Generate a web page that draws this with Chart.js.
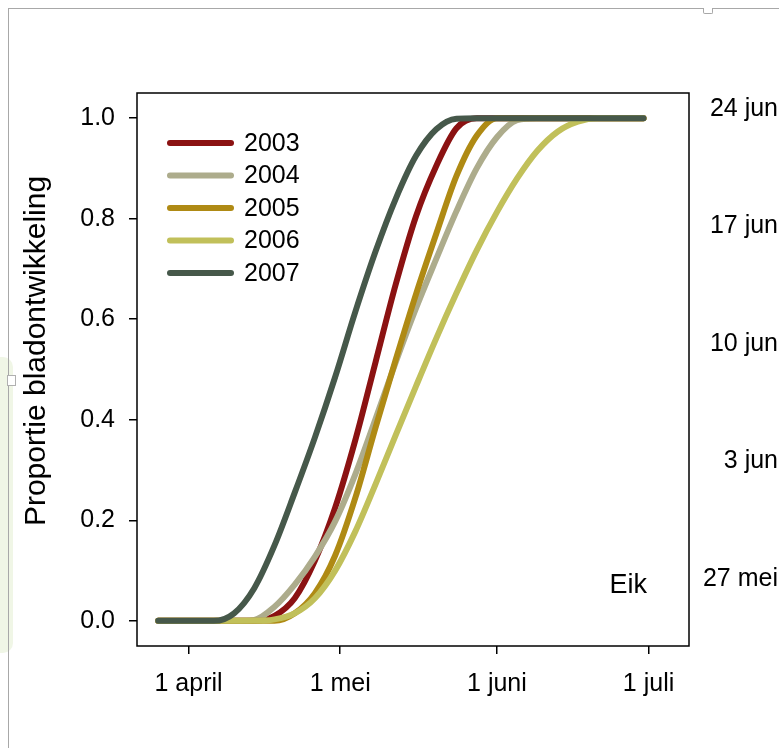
<!DOCTYPE html>
<html>
<head>
<meta charset="utf-8">
<script src="https://cdn.jsdelivr.net/npm/chart.js@4/dist/chart.umd.min.js"></script>
<style>
html, body { margin: 0; padding: 0; background: #fff; overflow: hidden; width: 779px; height: 748px; }
#wrap { position: relative; width: 779px; height: 748px; overflow: hidden; }
#chart { position: absolute; left: 0; top: 0; }
.blob { position: absolute; left: 0; top: 357px; width: 13px; height: 296px; background: #f0f6e6; border-radius: 0 10px 10px 0; }
.edge-top { position: absolute; left: 8px; top: 8px; width: 775px; border-top: 1px solid #a8a8a8; }
.edge-left { position: absolute; left: 8px; top: 8px; height: 745px; border-left: 1px solid #a8a8a8; }
.notch { position: absolute; left: 703px; top: 8px; width: 8px; height: 5px; border: 1px solid #a8a8a8; border-top: none; border-radius: 0 0 2px 2px; background: #fff; }
.handle { position: absolute; left: 7px; top: 375px; width: 7px; height: 9px; border: 1px solid #b0b0b0; background: #fff; }
</style>
</head>
<body>
<div id="wrap">
  <div class="blob"></div>
  <div class="edge-top"></div>
  <div class="edge-left"></div>
  <div class="notch"></div>
  <div class="handle"></div>
  <canvas id="chart" width="830" height="748"></canvas>
</div>
<script>
// day of year for every sample point
const days = [85, 88, 92, 96, 100, 104, 108, 112, 116, 120, 124, 128, 132,
              136, 140, 144, 148, 152, 156, 160, 164, 168, 172, 176, 181];

const years = ['2003', '2004', '2005', '2006', '2007'];
const colors = ['#8b1212', '#adac8c', '#af8a14', '#c1c05a', '#46584a'];

const val2003 = [0, 0, 0, 0, 0, 0, 0.01, 0.045, 0.12, 0.225, 0.36, 0.515, 0.67,
                 0.805, 0.905, 0.98, 1, 1, 1, 1, 1, 1, 1, 1, 1];
const val2004 = [0, 0, 0, 0, 0, 0.002, 0.028, 0.072, 0.128, 0.198, 0.292, 0.402, 0.515,
                 0.622, 0.72, 0.815, 0.9, 0.962, 0.996, 1, 1, 1, 1, 1, 1];
const val2005 = [0, 0, 0, 0, 0, 0, 0, 0.015, 0.055, 0.13, 0.245, 0.385, 0.52,
                 0.65, 0.77, 0.885, 0.965, 1, 1, 1, 1, 1, 1, 1, 1];
const val2006 = [0, 0, 0, 0, 0, 0, 0.003, 0.015, 0.045, 0.1, 0.178, 0.272, 0.37,
                 0.467, 0.562, 0.652, 0.737, 0.813, 0.88, 0.935, 0.973, 0.993, 1, 1, 1];
const val2007 = [0, 0, 0, 0, 0.015, 0.065, 0.15, 0.255, 0.365, 0.485, 0.615, 0.735, 0.84,
                 0.925, 0.978, 0.999, 1, 1, 1, 1, 1, 1, 1, 1, 1];
const series = [val2003, val2004, val2005, val2006, val2007];

const xTickDays = [91, 121, 152, 182];
const xTickLabels = ['1 april', '1 mei', '1 juni', '1 juli'];
const yTicks = [0, 0.2, 0.4, 0.6, 0.8, 1.0];
// labels of the neighbouring chart, cut off at the right edge
const sideDays = [147, 154, 161, 168, 175];
const sideLabels = ['27 mei', '3 jun', '10 jun', '17 jun', '24 jun'];

const FONT = '"Liberation Sans", Arial, sans-serif';

const datasets = series.map(function(vals, i) {
    return {
        label: years[i],
        data: days.map(function(d, j) { return {x: d, y: vals[j]}; }),
        borderColor: colors[i],
        backgroundColor: colors[i],
        borderWidth: 6,
        borderCapStyle: 'round',
        borderJoinStyle: 'round',
        cubicInterpolationMode: 'monotone',
        pointRadius: 0,
        fill: false,
        order: series.length - i,
        xAxisID: 'x',
        yAxisID: 'y'
    };
});

const decorPlugin = {
    id: 'decor',
    afterDraw: function(chart) {
        const ctx = chart.ctx;
        const a = chart.chartArea;
        ctx.save();
        // box around the plot
        ctx.strokeStyle = '#000';
        ctx.lineWidth = 1.5;
        ctx.strokeRect(a.left, a.top, a.right - a.left, a.bottom - a.top);

        // legend inside the plot
        ctx.font = '25px ' + FONT;
        ctx.textBaseline = 'middle';
        ctx.textAlign = 'left';
        chart.data.datasets.forEach(function(ds, i) {
            const y = 143 + i * 32.5;
            ctx.strokeStyle = ds.borderColor;
            ctx.lineWidth = 6;
            ctx.lineCap = 'round';
            ctx.beginPath();
            ctx.moveTo(170, y);
            ctx.lineTo(231, y);
            ctx.stroke();
            ctx.fillStyle = '#000';
            ctx.fillText(ds.label, 244, y + 1);
        });

        // labels of the right-hand date axis
        const y2 = chart.scales.y2;
        ctx.textAlign = 'right';
        sideDays.forEach(function(d, i) {
            ctx.fillText(sideLabels[i], 778, y2.getPixelForValue(d) + 1);
        });

        // species tag
        ctx.font = '27px ' + FONT;
        ctx.fillText('Eik', 647, 586);

        // y axis title
        ctx.translate(37, 351);
        ctx.rotate(-Math.PI / 2);
        ctx.textAlign = 'center';
        ctx.font = '30px ' + FONT;
        ctx.fillText('Proportie bladontwikkeling', 0, 0);
        ctx.restore();
    }
};

new Chart(document.getElementById('chart'), {
    type: 'line',
    data: { datasets: datasets },
    options: {
        responsive: false,
        animation: false,
        layout: { padding: { top: 93, left: 0, right: 0, bottom: 0 } },
        plugins: { legend: { display: false }, tooltip: { enabled: false } },
        scales: {
            x: {
                type: 'linear',
                min: 80.8,
                max: 190,
                afterBuildTicks: function(s) { s.ticks = xTickDays.map(function(v) { return {value: v}; }); },
                afterFit: function(s) { s.height = 102; },
                grid: { drawOnChartArea: false, drawTicks: true, tickLength: 8, color: '#000', lineWidth: 1.5 },
                border: { display: false },
                ticks: {
                    color: '#000', font: { family: FONT, size: 25 }, padding: 15,
                    maxRotation: 0, autoSkip: false,
                    callback: function(v, i) { return xTickLabels[i]; }
                }
            },
            y: {
                type: 'linear',
                min: -0.05,
                max: 1.05,
                afterBuildTicks: function(s) { s.ticks = yTicks.map(function(v) { return {value: v}; }); },
                afterFit: function(s) { s.width = 137; },
                grid: { drawOnChartArea: false, drawTicks: true, tickLength: 8, color: '#000', lineWidth: 1.5 },
                border: { display: false },
                ticks: {
                    color: '#000', font: { family: FONT, size: 25 }, padding: 14,
                    callback: function(v) { return v.toFixed(1); }
                }
            },
            y2: {
                type: 'linear',
                position: 'right',
                min: 142.95,
                max: 175.9,
                afterBuildTicks: function(s) { s.ticks = sideDays.map(function(v) { return {value: v}; }); },
                afterFit: function(s) { s.width = 830 - 689; },
                grid: { display: false, drawTicks: false },
                border: { display: false },
                ticks: { display: false }
            }
        }
    },
    plugins: [decorPlugin]
});
</script>
</body>
</html>
